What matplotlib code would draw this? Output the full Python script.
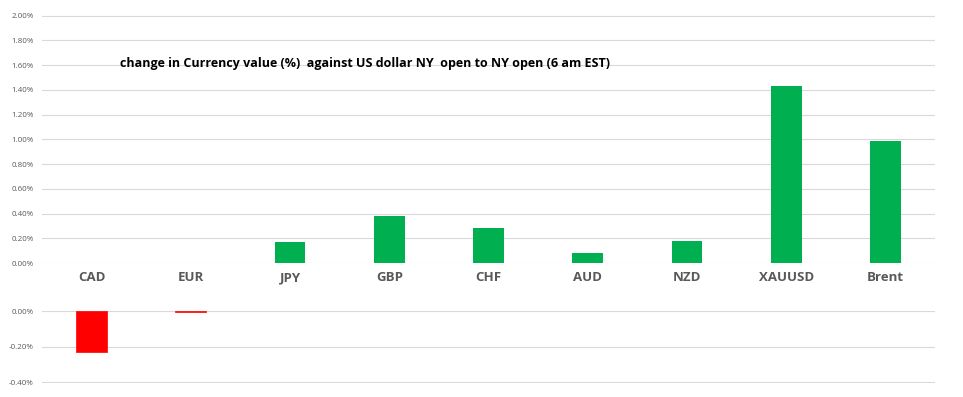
import matplotlib
matplotlib.use("Agg")
import matplotlib.pyplot as plt
from matplotlib.ticker import FuncFormatter, FixedLocator

categories = ["CAD", "EUR", "JPY", "GBP", "CHF", "AUD", "NZD", "XAUUSD", "Brent"]
values = [-0.228, -0.007, 0.17, 0.38, 0.28, 0.08, 0.18, 1.435, 0.985]
title = "change in Currency value (%)  against US dollar NY  open to NY open (6 am EST)"
top_ticks = [0.0, 0.2, 0.4, 0.6, 0.8, 1.0, 1.2, 1.4, 1.6, 1.8, 2.0]
bot_ticks = [-0.4, -0.2, 0.0]

green = "#00B050"
red = "#FF0000"
grid_c = "#D9D9D9"
txt_c = "#595959"

plt.rcParams['font.family'] = ['Open Sans', 'DejaVu Sans']

fig = plt.figure(figsize=(9.63, 3.97), dpi=100)
left, width = 42/963, 893/963
ax_top = fig.add_axes([left, 1-263/397, width, 248/397])
ax_bot = fig.add_axes([left, 1-383/397, width, 72/397])

x = list(range(len(categories)))
pos_x = [i for i, v in zip(x, values) if v > 0]
pos_v = [v for v in values if v > 0]
neg_x = [i for i, v in zip(x, values) if v < 0]
neg_v = [v for v in values if v < 0]

ax_top.bar(pos_x, pos_v, width=0.31, color=green, zorder=3)
ax_bot.bar(neg_x, neg_v, width=0.31, color=red, edgecolor=red, linewidth=0.5, zorder=3)

fmt = FuncFormatter(lambda v, p: f"{v:.2f}%")
for ax, ticks in ((ax_top, top_ticks), (ax_bot, bot_ticks)):
    ax.set_xlim(-0.5, len(categories) - 0.5)
    for s in ax.spines.values():
        s.set_visible(False)
    ax.yaxis.set_major_formatter(fmt)
    ax.yaxis.set_major_locator(FixedLocator(ticks))
    ax.grid(axis='y', color=grid_c, linewidth=0.8, zorder=0)
    ax.tick_params(axis='y', length=0, labelsize=5.8, labelcolor=txt_c, pad=6)
    ax.tick_params(axis='x', length=0)

ax_top.set_ylim(0, 2.005)
ax_bot.set_ylim(-0.403, 0.0)
ax_top.set_xticks(x)
ax_top.set_xticklabels(categories, fontsize=9.5, fontweight='bold', color=txt_c)
ax_top.tick_params(axis='x', pad=6)
ax_bot.set_xticks([])

fig.text(120/963, 1-63/397, title, fontsize=9, fontweight='bold', color='black',
         ha='left', va='center')

fig.savefig("out.png", dpi=100, facecolor='white')
